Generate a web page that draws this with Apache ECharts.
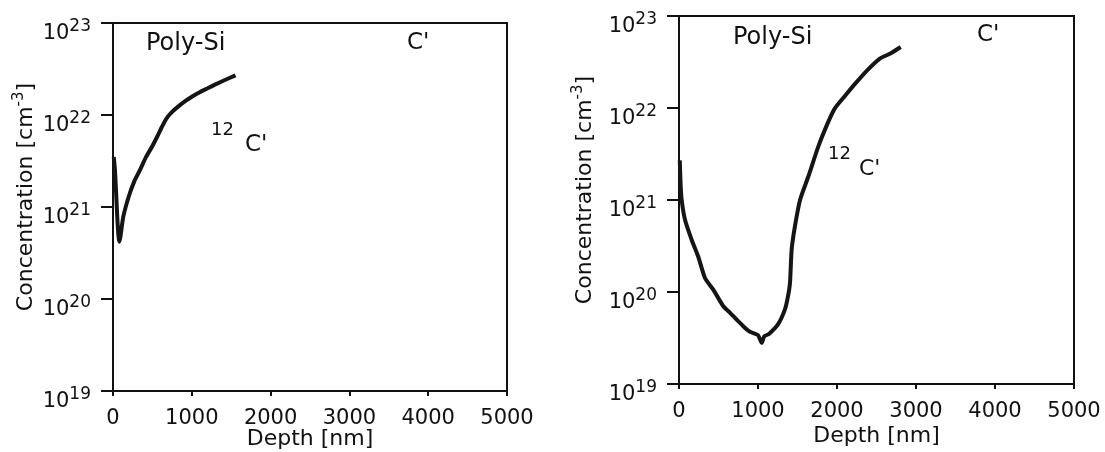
<!DOCTYPE html>
<html>
<head>
<meta charset="utf-8">
<script src="https://cdn.jsdelivr.net/npm/echarts@6/dist/echarts.min.js"></script>
<style>
  html, body { margin: 0; padding: 0; background: #fff; }
  #chart { width: 1105px; height: 452px; }
</style>
</head>
<body>
<div id="chart"></div>
<script>
// depth [nm] and concentration [cm-3]
const leftDepth = [10, 25, 40, 55, 70, 80, 95, 130, 200, 270, 340, 420, 500, 560, 620, 680, 750, 830, 920, 1010, 1100, 1200, 1300, 1420, 1555]
const leftConc = [3.5e21, 2.5e21, 1.4e21, 7.5e20, 4.8e20, 4.2e20, 4.8e20, 7.8e20, 1.3e21, 1.9e21, 2.5e21, 3.5e21, 4.6e21, 5.8e21, 7.4e21, 9.2e21, 1.08e22, 1.24e22, 1.42e22, 1.6e22, 1.77e22, 1.95e22, 2.15e22, 2.4e22, 2.7e22]

const rightDepth = [10, 20, 34, 76, 160, 245, 329, 434, 561, 650, 730, 820, 899, 1000, 1047, 1080, 1139, 1257, 1342, 1380, 1405, 1426, 1468, 1532, 1637, 1763, 1881, 1969, 2100, 2233, 2388, 2542, 2674, 2806]
const rightConc = [2.7e21, 1.5e21, 1.0e21, 6.1e20, 3.7e20, 2.4e20, 1.42e20, 1.06e20, 7e19, 5.9e19, 5e19, 4.2e19, 3.7e19, 3.4e19, 2.8e19, 3.3e19, 3.5e19, 4.5e19, 6.5e19, 9e19, 1.26e20, 2.9e20, 5.2e20, 1e21, 1.8e21, 3.8e21, 6.8e21, 9.8e21, 1.35e22, 1.85e22, 2.6e22, 3.45e22, 3.9e22, 4.6e22]

const depthTicks = [0, 1000, 2000, 3000, 4000, 5000]
const concMin = 1e19
const concMax = 1e23

const FONT = 'DejaVu Sans'
const INK = '#111'

const pairs = (xs, ys) => xs.map((x, i) => [x, ys[i]])

function xAxisFor(gridIndex, gap) {
  return {
    gridIndex,
    type: 'value',
    min: depthTicks[0],
    max: depthTicks[depthTicks.length - 1],
    interval: 1000,
    name: 'Depth [nm]',
    nameLocation: 'middle',
    nameGap: gap,
    nameMoveOverlap: false,
    nameTextStyle: { fontFamily: FONT, fontSize: 22, color: INK },
    axisLine: { lineStyle: { color: INK, width: 2 } },
    axisTick: { length: 5, lineStyle: { color: INK, width: 2 } },
    axisLabel: { fontFamily: FONT, fontSize: 21, color: INK, margin: 17, formatter: (v) => String(v) },
    splitLine: { show: false }
  }
}

function yAxisFor(gridIndex, gap) {
  return {
    gridIndex,
    type: 'log',
    logBase: 10,
    min: concMin,
    max: concMax,
    name: '{t|Concentration [cm}{s|-3}{t|]}',
    nameLocation: 'middle',
    nameGap: gap,
    nameMoveOverlap: false,
    nameTextStyle: {
      padding: [0, 0, 0, 20],
      rich: {
        t: { fontFamily: FONT, fontSize: 22, color: INK, verticalAlign: 'bottom', lineHeight: 25 },
        s: { fontFamily: FONT, fontSize: 15, color: INK, verticalAlign: 'top', lineHeight: 15 }
      }
    },
    axisLine: { lineStyle: { color: INK, width: 2 } },
    axisTick: { length: 12, lineStyle: { color: INK, width: 2 } },
    minorTick: { show: false },
    axisLabel: {
      margin: 22,
      padding: [16, 0, 0, 0],
      formatter: (v) => '{b|10}{s|' + Math.round(Math.log10(v)) + '}',
      rich: {
        b: { fontFamily: FONT, fontSize: 21, color: INK, lineHeight: 21, padding: [6, 0, 0, 0] },
        s: { fontFamily: FONT, fontSize: 17, color: INK, lineHeight: 17, padding: [0, 0, 9, 0] }
      }
    },
    splitLine: { show: false }
  }
}

function label(text, left, top, size) {
  return {
    type: 'text',
    left,
    top,
    style: { text, font: size + 'px "' + FONT + '"', fill: INK }
  }
}

function curve(xIdx, data) {
  return {
    type: 'line',
    xAxisIndex: xIdx,
    yAxisIndex: xIdx,
    data,
    showSymbol: false,
    smooth: 0.2,
    lineStyle: { color: '#151515', width: 4 },
    silent: true
  }
}

const gridBase = { show: true, borderColor: INK, borderWidth: 2, outerBoundsMode: 'none', containLabel: false }

const option = {
  animation: false,
  backgroundColor: '#fff',
  grid: [
    Object.assign({ left: 113, top: 23, width: 394, height: 368 }, gridBase),
    Object.assign({ left: 679, top: 16, width: 395, height: 368 }, gridBase)
  ],
  xAxis: [xAxisFor(0, 37), xAxisFor(1, 41)],
  yAxis: [yAxisFor(0, 76), yAxisFor(1, 83)],
  graphic: [
    label('Poly-Si', 146, 32, 24),
    label("C'", 407, 32, 23),
    label('12', 211, 121, 18),
    label("C'", 245, 134, 23),
    label('Poly-Si', 733, 26, 24),
    label("C'", 977, 24, 23),
    label('12', 828, 145, 18),
    label("C'", 859, 158, 22)
  ],
  series: [
    curve(0, pairs(leftDepth, leftConc)),
    curve(1, pairs(rightDepth, rightConc))
  ]
}

const myChart = echarts.init(document.getElementById('chart'))
myChart.setOption(option)
window.addEventListener('resize', () => {
  myChart.resize()
})
</script>
</body>
</html>
